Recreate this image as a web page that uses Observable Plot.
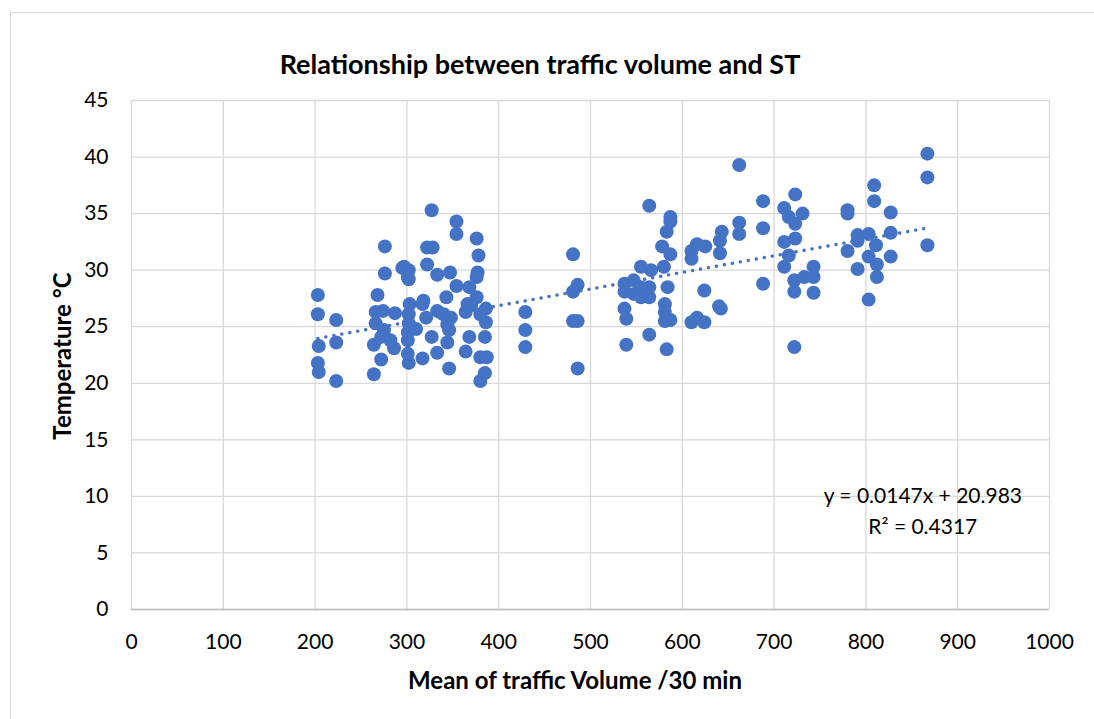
<!DOCTYPE html>
<html><head><meta charset="utf-8">
<script src="https://cdn.jsdelivr.net/npm/d3@7"></script>
<script src="https://cdn.jsdelivr.net/npm/@observablehq/plot@0.6"></script>
<style>
body{margin:0;background:#fff;font-family:Lato,"Open Sans",sans-serif;}
#wrap{position:relative;width:1094px;height:719px;overflow:hidden}
#frame{position:absolute;left:10px;top:12px;width:1200px;height:800px;border-left:1.5px solid #d9d9d9;border-top:1.5px solid #d9d9d9;box-sizing:border-box}
#title{position:absolute;left:0px;top:48px;width:1080px;text-align:center;font-weight:bold;font-size:27px;line-height:32px;color:#000}
#xtitle{position:absolute;left:275px;width:600px;top:665px;text-align:center;font-weight:bold;font-size:24px;line-height:30px;color:#000}
#ytitle{position:absolute;left:62px;top:356px;transform:translate(-50%,-50%) rotate(-90deg);white-space:nowrap;font-weight:bold;font-size:24px;line-height:30px;color:#000}
#chart{position:absolute;left:0;top:0}
</style></head><body>
<div id="wrap">
<div id="frame"></div>
<div id="chart"></div>
<div id="title">Relationship between traffic volume and ST</div>
<div id="xtitle">Mean of traffic Volume /30 min</div>
<div id="ytitle">Temperature °C</div>
</div>
<script>
const trafficVolume = [
 203,203,223,204,223,203,204,223,
 276,276,268,295,301,266,274,287,266,275,264,286,272,264,272,282,301,
 327,354,354,376,378,322,328,322,297,302,302,333,347,377,376,354,368,343,376,303,317,366,386,333,364,348,321,302,302,386,346,301,301,327,368,385,344,333,364,317,302,380,387,346,385,380,
 340,344,380,310,318,370,
 429,429,429,481,486,481,481,486,486,
 662,564,587,587,583,578,587,580,555,566,537,547,537,555,564,547,555,564,584,537,539,581,581,581,587,564,539,583,
 610,616,625,610,643,641,641,662,662,688,688,624,642,640,610,616,624,688,
 867,867,867,809,809,827,827,827,780,780,791,803,811,780,791,803,812,791,812,803,
 723,711,716,731,723,711,723,716,711,722,733,743,743,722,743,722
];
const temperature = [
 27.8,26.1,25.6,23.3,23.6,21.8,21.0,20.2,
 32.1,29.7,27.8,30.2,29.4,26.3,26.4,26.2,25.3,24.7,23.4,23.1,22.1,20.8,24.1,23.8,22.6,
 35.3,34.3,33.2,32.8,31.3,32.0,32.0,30.5,30.3,30.0,29.2,29.6,29.8,29.8,29.4,28.6,28.5,27.6,27.6,27.0,27.0,27.0,26.6,26.4,26.3,25.8,25.8,26.1,25.3,25.4,24.7,24.5,23.8,24.1,24.1,24.1,23.6,22.7,22.8,22.2,21.8,22.3,22.3,21.3,20.9,20.2,
 26.1,25.2,26.1,24.8,27.3,26.9,
 26.3,24.7,23.2,31.4,28.7,28.1,25.5,25.5,21.3,
 39.3,35.7,34.7,34.3,33.4,32.1,31.4,30.3,30.3,30.0,28.8,29.1,28.1,28.5,28.5,27.9,27.6,27.6,28.5,26.6,25.7,27.0,26.3,25.5,25.6,24.3,23.4,23.0,
 31.7,32.3,32.1,31.0,33.4,32.6,31.5,34.2,33.2,36.1,33.7,28.2,26.6,26.8,25.4,25.8,25.4,28.8,
 40.3,38.2,32.2,37.5,36.1,35.1,33.3,31.2,35.3,35.0,33.1,33.2,32.2,31.7,32.6,31.2,30.5,30.1,29.4,27.4,
 36.7,35.5,34.7,35.0,34.1,32.5,32.8,31.3,30.3,29.1,29.4,30.3,29.4,28.1,28.0,23.2
];
const xTicks = [0,100,200,300,400,500,600,700,800,900,1000];
const yTicks = [0,5,10,15,20,25,30,35,40,45];
const slope = 0.0147, intercept = 20.983;
const equationLines = ["y = 0.0147x + 20.983", "R² = 0.4317"];
const eqAnchorX = 862, eqAnchorY = 8.9;

const data = trafficVolume.map((v,i)=>({x:v, y:temperature[i]}));
const xMin = d3.min(trafficVolume), xMax = d3.max(trafficVolume);
const trend = [xMin, xMax].map(x=>({x, y: slope*x + intercept}));
const blue = "#4472C4";

const plot = Plot.plot({
  width:1094, height:719,
  marginLeft:131, marginRight:45, marginTop:100, marginBottom:110,
  style:{fontFamily:"Lato, 'Open Sans', sans-serif", fontSize:"21px", color:"#000", background:"transparent", overflow:"visible"},
  x:{domain:[0,1000]},
  y:{domain:[0,45]},
  marks:[
    Plot.gridX(xTicks,{stroke:"#d9d9d9", strokeOpacity:1, strokeWidth:1.3}),
    Plot.gridY(yTicks,{stroke:"#d9d9d9", strokeOpacity:1, strokeWidth:1.3}),
    Plot.ruleY([0],{stroke:"#bfbfbf", strokeWidth:1.5}),
    Plot.axisX({ticks:xTicks, tickSize:0, tickPadding:25, tickFormat:d=>String(d), label:null, fontSize:21}),
    Plot.axisY({ticks:yTicks, tickSize:0, tickPadding:23, tickFormat:d=>String(d), label:null, fontSize:21}),
    Plot.dot(data,{x:"x", y:"y", r:7, fill:blue, stroke:"none"}),
    Plot.line(trend,{x:"x", y:"y", stroke:blue, strokeWidth:3.4, strokeDasharray:"0.1,8", strokeLinecap:"round"}),
    Plot.text([equationLines.join("\n")],{x:()=>eqAnchorX, y:()=>eqAnchorY, text:d=>d, textAnchor:"middle", lineHeight:1.45, fontSize:21, fill:"#000"})
  ]
});
document.getElementById("chart").appendChild(plot);
</script>
</body></html>
